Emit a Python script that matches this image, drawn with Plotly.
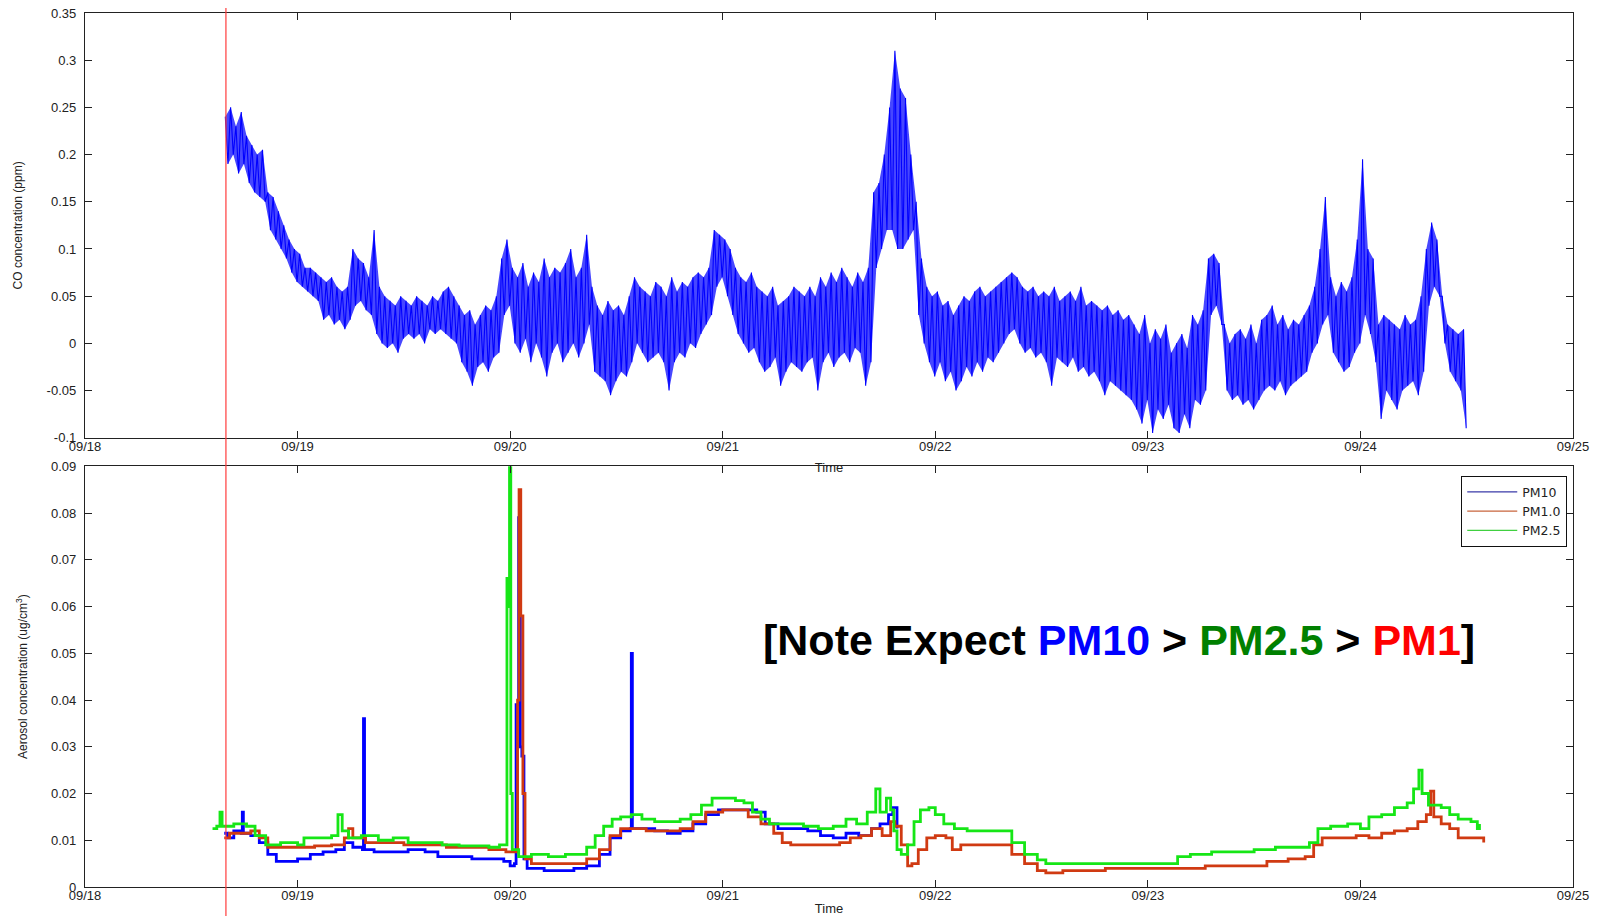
import plotly.graph_objects as go

# ---------------- data ----------------
x_tick_vals = [18, 19, 20, 21, 22, 23, 24, 25]
x_tick_labels = ["09/18", "09/19", "09/20", "09/21", "09/22", "09/23", "09/24", "09/25"]
co_tick_vals = [-0.1, -0.05, 0, 0.05, 0.1, 0.15, 0.2, 0.25, 0.3, 0.35]
co_tick_labels = ["-0.1", "-0.05", "0", "0.05", "0.1", "0.15", "0.2", "0.25", "0.3", "0.35"]
pm_tick_vals = [0, 0.01, 0.02, 0.03, 0.04, 0.05, 0.06, 0.07, 0.08, 0.09]
pm_tick_labels = ["0", "0.01", "0.02", "0.03", "0.04", "0.05", "0.06", "0.07", "0.08", "0.09"]

marker_day = 18.663  # red vertical marker

# CO: start time, sample step (days), and per-step high / low readings
co_start = 18.66
co_step = 0.025
co_hi = [
    0.24, 0.25, 0.23, 0.245, 0.22, 0.21, 0.2, 0.205,
    0.16, 0.155, 0.14, 0.125,
    0.11, 0.1, 0.095, 0.08, 0.08, 0.075,
    0.07, 0.065, 0.07, 0.06, 0.055, 0.06,
    0.1, 0.09, 0.085, 0.07,
    0.12, 0.06, 0.05, 0.045, 0.04, 0.05, 0.045, 0.04, 0.05, 0.045, 0.04, 0.05, 0.045, 0.055, 0.06, 0.05,
    0.04, 0.03, 0.035, 0.02, 0.03, 0.04, 0.035, 0.05,
    0.09, 0.11,
    0.08, 0.07, 0.085, 0.06, 0.075, 0.065, 0.09, 0.07, 0.08, 0.075, 0.085, 0.1, 0.07, 0.08, 0.115,
    0.06, 0.04, 0.03, 0.045, 0.035, 0.04, 0.03, 0.05,
    0.07, 0.06, 0.055, 0.05, 0.065, 0.06, 0.05, 0.07, 0.055, 0.065, 0.06, 0.07, 0.075, 0.07, 0.08,
    0.12, 0.115, 0.11,
    0.1, 0.08, 0.07, 0.065, 0.075, 0.06, 0.055, 0.05, 0.06, 0.04, 0.045, 0.05, 0.06, 0.055, 0.05, 0.06,
    0.05, 0.07, 0.06, 0.075, 0.065, 0.08, 0.07, 0.06, 0.075, 0.065, 0.08,
    0.16, 0.17, 0.2, 0.25, 0.31, 0.27, 0.26, 0.2,
    0.15, 0.09,
    0.06, 0.05, 0.055, 0.04, 0.045, 0.03, 0.04, 0.05, 0.045, 0.055, 0.06, 0.05, 0.055, 0.06, 0.065, 0.07, 0.075,
    0.07, 0.06, 0.055, 0.06, 0.05, 0.055, 0.05, 0.06, 0.045, 0.05, 0.055, 0.045, 0.06, 0.04, 0.045, 0.04, 0.035, 0.04, 0.03, 0.035, 0.025, 0.03,
    0.02, 0.01, 0.03, 0.0, 0.015, 0.005, 0.02, -0.01, 0.0, 0.01, -0.005, 0.03, 0.02, 0.035,
    0.09, 0.095, 0.085,
    0.02, 0.0, 0.01, 0.015, 0.005, 0.02, 0.0, 0.025, 0.03, 0.04, 0.02, 0.03, 0.015, 0.025, 0.02, 0.03,
    0.04, 0.06, 0.1, 0.155, 0.07, 0.05, 0.065, 0.055, 0.07,
    0.11, 0.195, 0.1, 0.09,
    0.02, 0.03, 0.025, 0.02, 0.015, 0.03, 0.02, 0.025, 0.05,
    0.1, 0.128, 0.11,
    0.05, 0.02, 0.015, 0.01, 0.015,
]
co_lo = [
    0.19, 0.2, 0.18, 0.19, 0.17, 0.16, 0.155, 0.15,
    0.12, 0.11, 0.1, 0.09,
    0.075, 0.065, 0.06, 0.055, 0.05, 0.045,
    0.025, 0.03, 0.02, 0.025, 0.015, 0.025,
    0.04, 0.045, 0.035, 0.03,
    0.01, 0.0, -0.005, 0.0, -0.01, 0.005, 0.01, 0.005, 0.01, 0.0, 0.015, 0.01, 0.015, 0.01, 0.005, 0.0,
    -0.02, -0.03, -0.045, -0.025, -0.02, -0.03, -0.015, -0.01,
    0.03, 0.04,
    0.0, -0.01, 0.005, -0.02, 0.0, -0.015, -0.035, -0.01, 0.0, -0.02, -0.01, 0.0, -0.015, 0.0, 0.02,
    -0.03, -0.035, -0.04, -0.055, -0.04, -0.03, -0.035, -0.02,
    0.0, -0.01, -0.02, -0.015, -0.01, -0.02, -0.05, -0.02, -0.01, -0.015, 0.0, -0.005, 0.01, 0.02, 0.03,
    0.06, 0.07, 0.05,
    0.03, 0.01, 0.0, -0.01, -0.005, -0.02, -0.03, -0.025, -0.015, -0.045, -0.03, -0.02, -0.025, -0.03, -0.02, -0.015,
    -0.05, -0.02, -0.01, -0.025, -0.015, -0.01, -0.02, -0.005, -0.01, -0.045, -0.02,
    0.08, 0.1, 0.12, 0.12, 0.1, 0.1, 0.11, 0.12,
    0.03, 0.0,
    -0.02, -0.035, -0.02, -0.04, -0.03, -0.05, -0.04, -0.025, -0.035, -0.02, -0.03, -0.015, -0.02, -0.01, 0.0, 0.01, 0.015,
    0.0, -0.01, -0.005, -0.015, -0.01, -0.02, -0.045, -0.015, -0.02, -0.025, -0.015, -0.03, -0.025, -0.035, -0.03, -0.04, -0.055, -0.04, -0.045, -0.05, -0.055, -0.06,
    -0.07, -0.085, -0.06, -0.095, -0.07, -0.08, -0.065, -0.09, -0.095, -0.075, -0.09, -0.06, -0.065, -0.05,
    0.03, 0.04, 0.02,
    -0.05, -0.06, -0.055, -0.065, -0.06, -0.07, -0.06, -0.05, -0.045, -0.05, -0.04, -0.055, -0.045, -0.04, -0.035, -0.03,
    -0.01, 0.0, 0.02, 0.03, -0.01, -0.02, -0.03, -0.025, -0.01,
    0.0, 0.03, 0.01, -0.02,
    -0.08, -0.05, -0.06, -0.07, -0.05, -0.045, -0.04, -0.055, -0.03,
    0.04, 0.06, 0.05,
    0.0, -0.03, -0.04, -0.05, -0.09,
]

# Aerosol series (day of September, concentration)
pm10_t = [18.655, 18.67, 18.70, 18.735, 18.74, 18.745, 18.78, 18.82, 18.86, 18.90, 18.96, 19.00, 19.06,
          19.12, 19.18, 19.22, 19.26, 19.305, 19.31, 19.315, 19.36, 19.44, 19.52, 19.60, 19.66, 19.74,
          19.82, 19.90, 19.97, 20.00, 20.02, 20.028, 20.04, 20.048, 20.055, 20.065, 20.08, 20.16, 20.24,
          20.30, 20.36, 20.42, 20.47, 20.52, 20.565, 20.57, 20.575, 20.62, 20.68, 20.74, 20.80, 20.86,
          20.92, 20.98, 21.04, 21.10, 21.16, 21.20, 21.26, 21.32, 21.40, 21.46, 21.52, 21.58, 21.64,
          21.70, 21.74, 21.78, 21.80, 21.82]
pm10_v = [0.0115, 0.0105, 0.012, 0.0115, 0.016, 0.0115, 0.011, 0.0095, 0.007, 0.0055, 0.0055, 0.006, 0.007,
          0.0075, 0.008, 0.0095, 0.0085, 0.008, 0.036, 0.008, 0.0075, 0.0075, 0.008, 0.0075, 0.0065, 0.0065,
          0.006, 0.006, 0.0055, 0.0045, 0.005, 0.039, 0.079, 0.03, 0.028, 0.006, 0.004, 0.0035, 0.0035,
          0.004, 0.0045, 0.007, 0.0105, 0.012, 0.0125, 0.05, 0.0125, 0.0125, 0.012, 0.0115, 0.012, 0.0135,
          0.0155, 0.0165, 0.0165, 0.0165, 0.016, 0.0135, 0.0125, 0.0125, 0.012, 0.011, 0.0105, 0.0115, 0.011,
          0.0125, 0.0135, 0.0155, 0.017, 0.0125]

pm1_t = [18.655, 18.68, 18.72, 18.78, 18.82, 18.86, 18.90, 19.00, 19.08, 19.16, 19.22, 19.24, 19.26, 19.32,
         19.40, 19.50, 19.60, 19.70, 19.80, 19.90, 19.98, 20.02, 20.035, 20.042, 20.05, 20.06, 20.07, 20.10,
         20.20, 20.30, 20.36, 20.42, 20.47, 20.52, 20.58, 20.64, 20.72, 20.80, 20.86, 20.92, 21.00, 21.08,
         21.12, 21.18, 21.24, 21.28, 21.32, 21.40, 21.48, 21.55, 21.60, 21.65, 21.70, 21.75, 21.79, 21.81,
         21.84, 21.87, 21.89, 21.92, 21.96, 22.00, 22.05, 22.08, 22.12, 22.20, 22.30, 22.36, 22.42, 22.48,
         22.52, 22.60, 22.70, 22.80, 22.90, 23.00, 23.10, 23.20, 23.27, 23.40, 23.50, 23.56, 23.66, 23.74,
         23.78, 23.82, 23.90, 23.98, 24.04, 24.10, 24.16, 24.22, 24.27, 24.31, 24.33, 24.345, 24.38, 24.42,
         24.46, 24.52, 24.56, 24.58]
pm1_v = [0.0105, 0.0115, 0.0115, 0.012, 0.0105, 0.0085, 0.0085, 0.0085, 0.0088, 0.009, 0.0105, 0.0125, 0.0105,
         0.0095, 0.0095, 0.009, 0.009, 0.0085, 0.0085, 0.008, 0.0075, 0.0075, 0.04, 0.085, 0.058, 0.02, 0.006,
         0.005, 0.005, 0.005, 0.006, 0.008, 0.011, 0.0125, 0.0125, 0.012, 0.012, 0.0125, 0.014, 0.016, 0.0165,
         0.0165, 0.015, 0.0135, 0.0115, 0.0095, 0.009, 0.009, 0.009, 0.0095, 0.0105, 0.011, 0.0125, 0.011,
         0.014, 0.013, 0.009, 0.0045, 0.005, 0.008, 0.0105, 0.011, 0.0105, 0.008, 0.009, 0.009, 0.009, 0.007,
         0.005, 0.0035, 0.003, 0.0035, 0.0035, 0.004, 0.004, 0.004, 0.004, 0.004, 0.0045, 0.0045, 0.0045,
         0.0055, 0.006, 0.0065, 0.009, 0.0105, 0.0105, 0.011, 0.0105, 0.0115, 0.012, 0.0125, 0.014, 0.0155,
         0.0205, 0.015, 0.0135, 0.0125, 0.0105, 0.0105, 0.0105, 0.0095]

pm25_t = [18.60, 18.62, 18.635, 18.645, 18.70, 18.76, 18.80, 18.85, 18.92, 19.00, 19.03, 19.10, 19.16, 19.19,
          19.21, 19.24, 19.30, 19.38, 19.45, 19.52, 19.60, 19.68, 19.76, 19.84, 19.90, 19.95, 19.975, 19.985,
          19.99, 19.997, 20.003, 20.01, 20.04, 20.10, 20.18, 20.26, 20.32, 20.36, 20.40, 20.44, 20.48, 20.52,
          20.57, 20.62, 20.68, 20.74, 20.80, 20.85, 20.90, 20.95, 21.00, 21.06, 21.10, 21.14, 21.18, 21.22,
          21.30, 21.38, 21.45, 21.52, 21.58, 21.63, 21.68, 21.72, 21.74, 21.77, 21.79, 21.805, 21.82, 21.84,
          21.87, 21.90, 21.93, 21.97, 22.00, 22.04, 22.09, 22.15, 22.22, 22.30, 22.36, 22.42, 22.48, 22.52,
          22.70, 22.85, 23.00, 23.10, 23.14, 23.20, 23.30, 23.40, 23.50, 23.60, 23.70, 23.76, 23.80, 23.86,
          23.94, 24.00, 24.04, 24.10, 24.16, 24.22, 24.25, 24.275, 24.29, 24.32, 24.38, 24.42, 24.46, 24.52,
          24.55, 24.56]
pm25_v = [0.0125, 0.013, 0.016, 0.013, 0.0135, 0.013, 0.011, 0.009, 0.0095, 0.009, 0.0105, 0.0105, 0.011,
          0.0155, 0.012, 0.0105, 0.011, 0.010, 0.0105, 0.0095, 0.0095, 0.009, 0.0088, 0.0088, 0.0085, 0.009,
          0.009, 0.066, 0.06, 0.095, 0.02, 0.008, 0.0065, 0.007, 0.0065, 0.007, 0.007, 0.0085, 0.011, 0.013,
          0.0145, 0.015, 0.0155, 0.0145, 0.014, 0.014, 0.0145, 0.0155, 0.0175, 0.019, 0.019, 0.0185, 0.018,
          0.016, 0.0145, 0.0135, 0.0135, 0.013, 0.0125, 0.013, 0.0145, 0.0135, 0.016, 0.021, 0.016, 0.019,
          0.0165, 0.012, 0.008, 0.007, 0.009, 0.014, 0.0165, 0.017, 0.0155, 0.0135, 0.0125, 0.012, 0.012,
          0.012, 0.0095, 0.007, 0.0058, 0.005, 0.005, 0.005, 0.005, 0.005, 0.0065, 0.007, 0.0075, 0.0075,
          0.008, 0.0085, 0.0085, 0.0095, 0.0125, 0.013, 0.0135, 0.0125, 0.015, 0.0155, 0.017, 0.018, 0.021,
          0.025, 0.020, 0.0175, 0.017, 0.0155, 0.0145, 0.014, 0.0125, 0.0135]

series_names = ["PM10", "PM1.0", "PM2.5"]
series_colors = ["#0000ff", "#d03a12", "#16e616"]
legend_colors = ["#3a3aa8", "#c8643c", "#40d040"]

# ---------------- build CO traces ----------------
n = min(len(co_hi), len(co_lo))
hi_x = [co_start + i * co_step for i in range(n)]
lo_x = [co_start + i * co_step + co_step / 2 for i in range(n)]
co_x, co_y = [], []
for i in range(n):
    co_x += [hi_x[i], lo_x[i]]
    co_y += [co_hi[i], co_lo[i]]

fig = go.Figure()

# dense band body (between the high and low readings)
fig.add_trace(go.Scatter(x=hi_x, y=co_hi[:n], mode="lines", line=dict(width=0, color="rgba(0,0,255,0)"),
                         showlegend=False, hoverinfo="skip", xaxis="x", yaxis="y"))
fig.add_trace(go.Scatter(x=lo_x, y=co_lo[:n], mode="lines", line=dict(width=0, color="rgba(0,0,255,0)"),
                         fill="tonexty", fillcolor="rgba(0,0,255,0.72)",
                         showlegend=False, hoverinfo="skip", xaxis="x", yaxis="y"))
# the raw zig-zag signal
fig.add_trace(go.Scatter(x=co_x, y=co_y, mode="lines", line=dict(color="#0000ff", width=1.1),
                         showlegend=False, xaxis="x", yaxis="y"))

pm_data = [(pm10_t, pm10_v), (pm1_t, pm1_v), (pm25_t, pm25_v)]
for (t, v), name, col in zip(pm_data, series_names, series_colors):
    fig.add_trace(go.Scatter(x=t, y=v, mode="lines", line=dict(color=col, width=2.8, shape="hv"),
                             showlegend=False, xaxis="x2", yaxis="y2"))
for name, col in zip(series_names, legend_colors):
    fig.add_trace(go.Scatter(x=[None], y=[None], mode="lines", name=name,
                             line=dict(color=col, width=1.2), xaxis="x2", yaxis="y2"))

font_fam = "Liberation Sans, Arial, sans-serif"
axis_common = dict(showgrid=False, zeroline=False, showline=True, linecolor="#222222", linewidth=1.3,
                   mirror="ticks", ticks="inside", ticklen=7, tickwidth=1.2, tickcolor="#222222",
                   automargin=False, ticklabeloverflow="allow",
                   tickfont=dict(family=font_fam, size=13, color="#222222"))
x_common = dict(axis_common, ticklabelstandoff=-4)
y_common = dict(axis_common, ticklabelstandoff=5)

# The page body adds an 8 px margin, so the figure is sized to fit inside the window.
fig.update_layout(
    width=1583, height=908,
    margin=dict(l=77, r=18, t=5, b=29, autoexpand=False),
    paper_bgcolor="white", plot_bgcolor="white",
    xaxis=dict(domain=[0, 1], anchor="y", range=[18, 25], tickvals=x_tick_vals, ticktext=x_tick_labels,
               title=dict(text="Time", font=dict(family=font_fam, size=13, color="#222222"), standoff=10),
               **x_common),
    yaxis=dict(domain=[0.514, 1], anchor="x", range=[-0.1, 0.35], tickvals=co_tick_vals,
               ticktext=co_tick_labels,
               title=dict(text="CO concentration (ppm)", font=dict(family=font_fam, size=12, color="#222222"),
                          standoff=21),
               **y_common),
    xaxis2=dict(domain=[0, 1], anchor="y2", range=[18, 25], tickvals=x_tick_vals, ticktext=x_tick_labels,
                title=dict(text="Time", font=dict(family=font_fam, size=13, color="#222222"), standoff=16),
                **x_common),
    yaxis2=dict(domain=[0, 0.4813], anchor="x2", range=[0, 0.09], tickvals=pm_tick_vals,
                ticktext=pm_tick_labels,
                title=dict(text="Aerosol concentration (ug/cm<sup>3</sup>)",
                           font=dict(family=font_fam, size=12, color="#222222"), standoff=20),
                **y_common),
    legend=dict(x=0.996, y=0.4703, xanchor="right", yanchor="top", bgcolor="white", traceorder="normal",
                bordercolor="#111111", borderwidth=1.2,
                font=dict(family="DejaVu Sans, Liberation Sans", size=12.5, color="#222222"),
                tracegroupgap=0, itemwidth=50),
    shapes=[dict(type="line", xref="x", yref="paper", x0=marker_day, x1=marker_day, y0=-0.1, y1=1.1,
                 line=dict(color="#ff3b3b", width=1.2), layer="above")],
    annotations=[dict(
        xref="paper", yref="paper", x=0.695, y=0.283, xanchor="center", yanchor="middle", showarrow=False,
        text=("<b>[Note Expect <span style='color:#0000ff'>PM10</span> &gt; "
              "<span style='color:#008000'>PM2.5</span> &gt; "
              "<span style='color:#ff0000'>PM1</span>]</b>"),
        font=dict(family="Liberation Sans Narrow, Liberation Sans, Arial", size=43, color="black"))],
)

fig.write_html("out.html")
